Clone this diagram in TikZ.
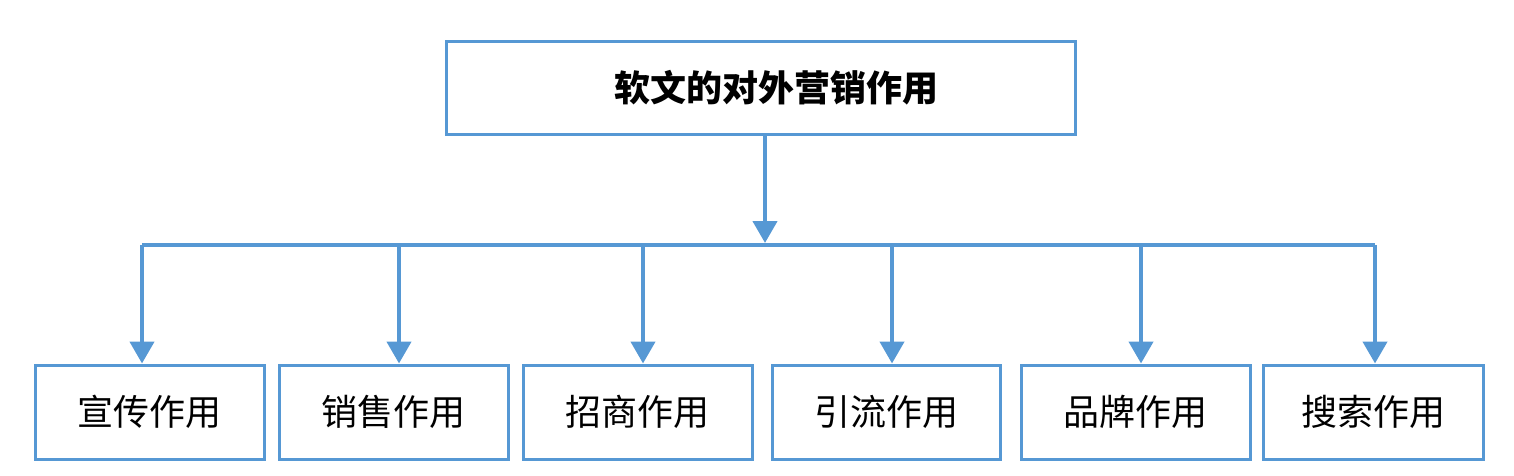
\documentclass[tikz,border=0pt]{standalone}
\usepackage{fontspec}
\newfontfamily\cjk{Noto Sans CJK SC}
\usetikzlibrary{arrows.meta}
\definecolor{lineblue}{RGB}{86,152,212}
\tikzset{
  boxstyle/.style={draw=lineblue, line width=1.5pt, fill=white, inner sep=0pt, text=black,
    font=\cjk\fontsize{18}{18}\selectfont},
  conn/.style={draw=lineblue, line width=2.2pt},
  arr/.style={conn, -{Triangle[width=12pt,length=11pt]}, color=lineblue},
}
\begin{document}
\begin{tikzpicture}[x=0.5pt,y=-0.5pt]
\useasboundingbox (0,0) rectangle (1514,476);
\node[boxstyle, font=\cjk\bfseries\fontsize{18}{18}\selectfont, minimum width=314.5pt, minimum height=46pt] (top) at (760.5,88) {\hspace*{16pt}软文的对外营销作用};
\node[boxstyle, minimum width=114.5pt, minimum height=47pt] (b1) at (149.5,412) {宣传作用};
\node[boxstyle, minimum width=114.5pt, minimum height=47pt] (b2) at (393.5,412) {销售作用};
\node[boxstyle, minimum width=114.5pt, minimum height=47pt] (b3) at (637.5,412) {招商作用};
\node[boxstyle, minimum width=114pt, minimum height=47pt] (b4) at (886,412) {引流作用};
\node[boxstyle, minimum width=114.5pt, minimum height=47pt] (b5) at (1135.5,412) {品牌作用};
\node[boxstyle, minimum width=110pt, minimum height=47pt] (b6) at (1373,412) {搜索作用};
\coordinate (jc) at (765,243);
\coordinate (j1) at (142,245);
\coordinate (j2) at (399,245);
\coordinate (j3) at (643,245);
\coordinate (j4) at (892,245);
\coordinate (j5) at (1141,245);
\coordinate (j6) at (1375,245);
\draw[arr] (top.south -| jc) -- (jc);
\draw[conn, line join=miter] (j1) -- (j6);
\draw[arr] (j1) -- (b1.north -| j1);
\draw[arr] (j2) -- (b2.north -| j2);
\draw[arr] (j3) -- (b3.north -| j3);
\draw[arr] (j4) -- (b4.north -| j4);
\draw[arr] (j5) -- (b5.north -| j5);
\draw[arr] (j6) -- (b6.north -| j6);
\end{tikzpicture}
\end{document}
